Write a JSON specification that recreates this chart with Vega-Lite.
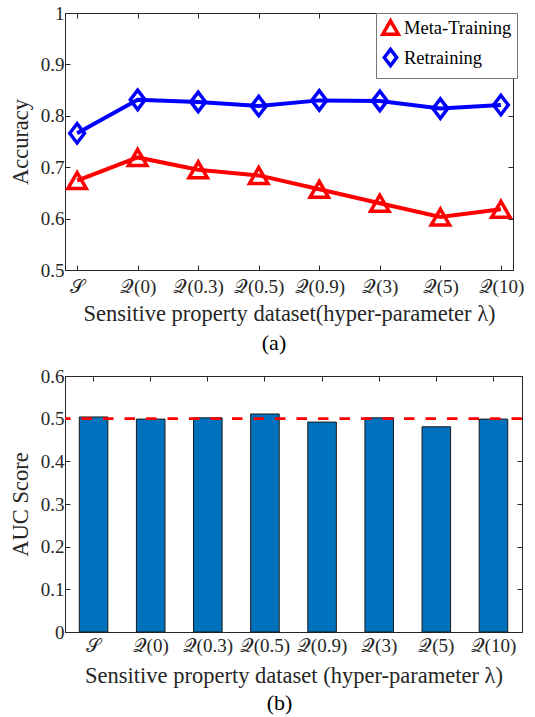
{
  "$schema": "https://vega.github.io/schema/vega-lite/v6.json",
  "padding": {"left": 8, "top": 3, "right": 5, "bottom": 5},
  "background": "white",
  "config": {
    "font": "Liberation Serif",
    "view": {"stroke": "#262626", "strokeWidth": 1},
    "axis": {
      "grid": false,
      "domainColor": "#262626",
      "tickColor": "#262626",
      "tickSize": -5,
      "labelFont": "Liberation Serif",
      "labelFontSize": 19,
      "labelColor": "#262626",
      "titleFont": "Liberation Serif",
      "titleFontSize": 22.5,
      "titleFontWeight": "normal",
      "titleColor": "#262626"
    },
    "legend": {
      "title": null, "orient": "none", "legendX": 311, "legendY": 0, "strokeColor": "#777777", "fillColor": "white",
      "padding": 5, "labelFontSize": 18.5, "labelFont": "Liberation Serif", "labelColor": "#000000",
      "symbolStrokeWidth": 3.5, "symbolSize": 240, "rowPadding": 0, "labelOffset": 4
    },
    "title": {"font": "Liberation Serif", "fontSize": 22, "fontWeight": "normal", "color": "#000000"}
  },
  "datasets": {
    "acc": [
      {"cat": "𝒮", "series": "Meta-Training", "value": 0.674},
      {"cat": "𝒬(0)", "series": "Meta-Training", "value": 0.719},
      {"cat": "𝒬(0.3)", "series": "Meta-Training", "value": 0.695},
      {"cat": "𝒬(0.5)", "series": "Meta-Training", "value": 0.684},
      {"cat": "𝒬(0.9)", "series": "Meta-Training", "value": 0.657},
      {"cat": "𝒬(3)", "series": "Meta-Training", "value": 0.630},
      {"cat": "𝒬(5)", "series": "Meta-Training", "value": 0.603},
      {"cat": "𝒬(10)", "series": "Meta-Training", "value": 0.618},
      {"cat": "𝒮", "series": "Retraining", "value": 0.766},
      {"cat": "𝒬(0)", "series": "Retraining", "value": 0.831},
      {"cat": "𝒬(0.3)", "series": "Retraining", "value": 0.827},
      {"cat": "𝒬(0.5)", "series": "Retraining", "value": 0.819},
      {"cat": "𝒬(0.9)", "series": "Retraining", "value": 0.830},
      {"cat": "𝒬(3)", "series": "Retraining", "value": 0.829},
      {"cat": "𝒬(5)", "series": "Retraining", "value": 0.814},
      {"cat": "𝒬(10)", "series": "Retraining", "value": 0.821}
    ],
    "auc": [
      {"cat": "𝒮", "auc": 0.504},
      {"cat": "𝒬(0)", "auc": 0.499},
      {"cat": "𝒬(0.3)", "auc": 0.502},
      {"cat": "𝒬(0.5)", "auc": 0.511},
      {"cat": "𝒬(0.9)", "auc": 0.492},
      {"cat": "𝒬(3)", "auc": 0.502},
      {"cat": "𝒬(5)", "auc": 0.481},
      {"cat": "𝒬(10)", "auc": 0.499}
    ]
  },
  "bounds": "flush",
  "spacing": 106,
  "vconcat": [
    {
      "width": 448,
      "height": 257,
      "data": {"name": "acc"},
      "title": {"text": "(a)", "orient": "bottom", "anchor": "middle", "frame": "group", "dx": -15, "offset": 8},
      "layer": [
        {
          "mark": {"type": "line", "strokeWidth": 4},
          "encoding": {
            "x": {"field": "cat", "type": "nominal", "sort": null,
                  "scale": {"type": "point", "padding": 0.2},
                  "axis": {"labelAngle": 0, "title": "Sensitive property dataset(hyper-parameter λ)", "labelPadding": 12, "titlePadding": 6}},
            "y": {"field": "value", "type": "quantitative",
                  "scale": {"domain": [0.5, 1], "nice": false, "zero": false},
                  "axis": {"values": [0.5, 0.6, 0.7, 0.8, 0.9, 1], "format": ".1~f", "title": "Accuracy", "labelPadding": 6, "titlePadding": 8}},
            "color": {"field": "series", "type": "nominal",
                      "scale": {"domain": ["Meta-Training", "Retraining"], "range": ["#FF0000", "#0000FF"]}}
          }
        },
        {
          "mark": {"type": "point", "filled": false, "strokeWidth": 3.5, "size": 340, "fill": "white", "fillOpacity": 0},
          "encoding": {
            "x": {"field": "cat", "type": "nominal", "sort": null, "axis": null},
            "y": {"field": "value", "type": "quantitative", "axis": null},
            "color": {"field": "series", "type": "nominal"},
            "shape": {"field": "series", "type": "nominal",
                      "scale": {"domain": ["Meta-Training", "Retraining"], "range": ["triangle-up", "M-0.8,0L0,-1.05L0.8,0L0,1.05Z"]}}
          }
        },
        {
          "mark": {"type": "point", "opacity": 0},
          "encoding": {
            "x": {"field": "cat", "type": "nominal", "sort": null,
                  "axis": {"orient": "top", "labels": false, "domain": false, "title": null}},
            "y": {"field": "value", "type": "quantitative",
                  "axis": {"orient": "right", "labels": false, "domain": false, "title": null, "values": [0.5, 0.6, 0.7, 0.8, 0.9, 1]}}
          }
        }
      ],
      "resolve": {"axis": {"x": "independent", "y": "independent"}}
    },
    {
      "width": 457,
      "height": 256,
      "title": {"text": "(b)", "orient": "bottom", "anchor": "middle", "frame": "group", "dx": -14, "offset": 6},
      "layer": [
        {
          "data": {"name": "auc"},
          "mark": {"type": "bar", "color": "#0072BD", "stroke": "#1a1a1a", "strokeWidth": 1},
          "encoding": {
            "x": {"field": "cat", "type": "nominal", "sort": null,
                  "scale": {"type": "band", "paddingInner": 0.5, "paddingOuter": 0.25},
                  "axis": {"labelAngle": 0, "title": "Sensitive property dataset (hyper-parameter λ)", "labelPadding": 9, "titlePadding": 9}},
            "y": {"field": "auc", "type": "quantitative",
                  "scale": {"domain": [0, 0.6], "nice": false},
                  "axis": {"values": [0, 0.1, 0.2, 0.3, 0.4, 0.5, 0.6], "format": ".1~f", "title": "AUC Score", "labelPadding": 6, "titlePadding": 8}}
          }
        },
        {
          "data": {"values": [{"ref": "chance"}]},
          "mark": {"type": "rule", "color": "#FF0000", "strokeWidth": 2.7, "strokeDash": [10.5, 11]},
          "encoding": {"y": {"datum": 0.5, "axis": null}}
        },
        {
          "data": {"name": "auc"},
          "mark": {"type": "point", "opacity": 0},
          "encoding": {
            "x": {"field": "cat", "type": "nominal", "sort": null,
                  "axis": {"orient": "top", "labels": false, "domain": false, "title": null}},
            "y": {"field": "auc", "type": "quantitative",
                  "axis": {"orient": "right", "labels": false, "domain": false, "title": null, "values": [0, 0.1, 0.2, 0.3, 0.4, 0.5, 0.6]}}
          }
        }
      ],
      "resolve": {"axis": {"x": "independent", "y": "independent"}}
    }
  ]
}
